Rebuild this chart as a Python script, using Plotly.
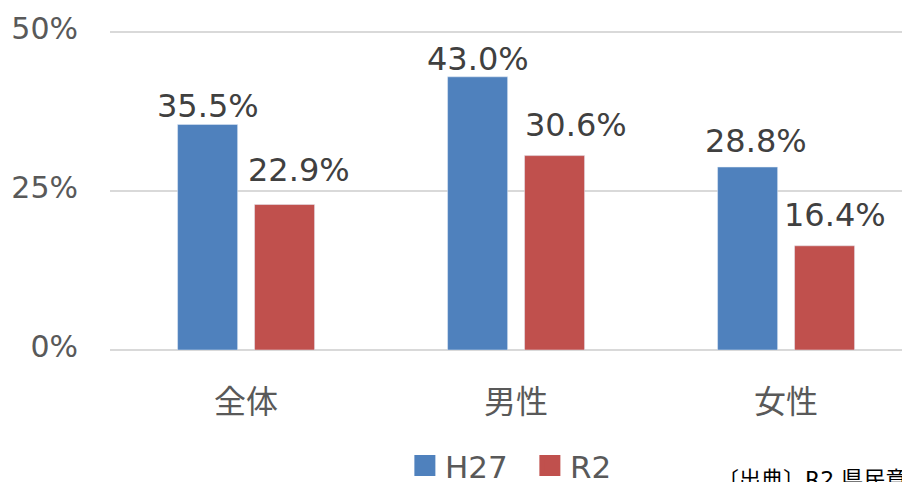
import plotly.graph_objects as go

categories = ["全体", "男性", "女性"]
h27_values = [35.5, 43.0, 28.8]
r2_values = [22.9, 30.6, 16.4]
series_names = ["H27", "R2"]
y_ticks = [0, 25, 50]
y_tick_labels = ["0%", "25%", "50%"]
source_text = "〔出典〕R2 県民意識調査"

# styling (not data): colours, label nudges in px (dx right, gap above bar)
series_colors = ["#4F81BD", "#C0504D"]
label_dx = [[0, 0, 8], [14, 21, 10]]
label_gap = [[6, 6, 14], [23, 19, 19]]
bar_offset = [-38.5, 38.5]

FONT = "DejaVu Sans, Noto Sans CJK JP, sans-serif"
GREY = "#595959"
DARK = "#404040"

fig = go.Figure()
annotations = []
for s, (name, vals, col) in enumerate(zip(series_names, [h27_values, r2_values], series_colors)):
    fig.add_trace(go.Bar(
        x=categories, y=vals, name=name, showlegend=False,
        marker=dict(color=col), hoverinfo="x+y",
    ))
    for i, (c, v) in enumerate(zip(categories, vals)):
        annotations.append(dict(
            x=c, y=v, xref="x", yref="y", text=f"{v:.1f}%", showarrow=False,
            xanchor="center", yanchor="bottom",
            xshift=bar_offset[s] + label_dx[s][i], yshift=label_gap[s][i] - 9,
            font=dict(size=32, color=DARK, family=FONT),
        ))
# legend entries (square swatches)
for name, col in zip(series_names, series_colors):
    fig.add_trace(go.Scatter(
        x=[None], y=[None], mode="markers", name=name,
        marker=dict(symbol="square", size=16, color=col,
                    line=dict(color=col, width=5)),
    ))

annotations.append(dict(
    text=source_text, xref="paper", yref="paper", x=0.756, y=-0.3545,
    xanchor="left", yanchor="top", showarrow=False,
    font=dict(size=22, color="#000000", family=FONT),
))

W, H = 902, 474  # page body has 8px margin
fig.update_layout(
    width=W, height=H,
    margin=dict(l=102, r=0, t=18, b=132, autoexpand=False),
    paper_bgcolor="white", plot_bgcolor="white",
    barmode="group", bargap=0.43, bargroupgap=0.22,
    font=dict(family=FONT, color=GREY, size=30),
    showlegend=True,
    legend=dict(orientation="h", x=0.44, xanchor="left", xref="container",
                y=0.034, yanchor="middle", yref="container",
                font=dict(size=31, color=GREY), itemwidth=30, entrywidth=80,
                traceorder="normal"),
    annotations=annotations,
)
fig.update_yaxes(
    range=[0, 51], tickvals=y_ticks, ticktext=y_tick_labels,
    showgrid=True, gridcolor="#D9D9D9", gridwidth=1.5,
    zeroline=True, zerolinecolor="#D9D9D9", zerolinewidth=1.5,
    showline=False, ticks="", ticklabelstandoff=31, ticklabelshift=-4,
    automargin=False, tickfont=dict(size=30, color=GREY),
)
fig.update_xaxes(
    range=[-0.504, 2.459], showgrid=False, showline=False, ticks="",
    ticklabelstandoff=30, automargin=False, tickfont=dict(size=32, color=GREY),
)

fig.write_html("out.html")
